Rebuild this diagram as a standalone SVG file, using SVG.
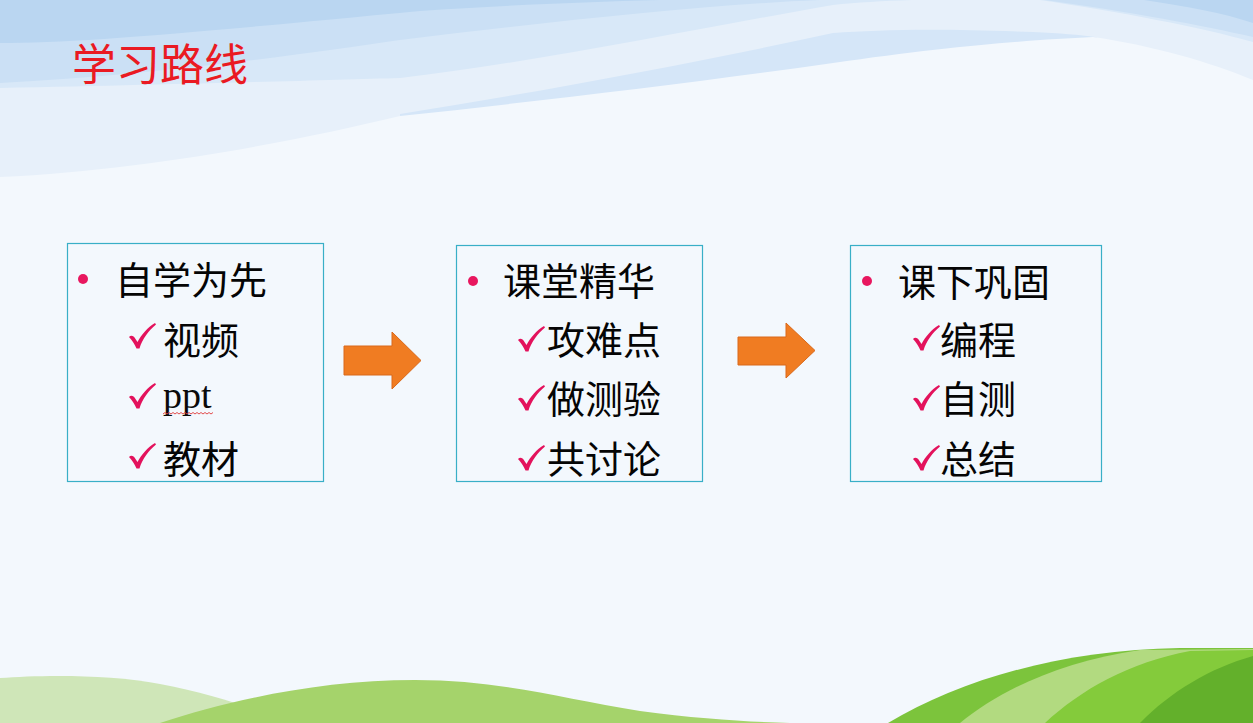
<svg xmlns="http://www.w3.org/2000/svg" xmlns:xlink="http://www.w3.org/1999/xlink" width="1253" height="723" viewBox="0 0 1253 723">
<style>
.box{fill:none;stroke:#38afc7;stroke-width:1.2}
.t{font-family:"Noto Sans CJK SC","Noto Sans",sans-serif;font-size:38px;font-weight:400;fill:#050505}
.lat{font-family:"Liberation Serif",serif;font-size:38px;fill:#0a0a0a}
.title{font-family:"Noto Sans CJK SC","Noto Sans",sans-serif;font-size:44px;font-weight:400;fill:#ea1a22}
.dot{fill:#e8175f}
.chk{fill:#e3125c}
.arr{fill:#f07c22;stroke:#d9691a;stroke-width:1}
</style>
<defs>
<path id="check" d="M0,14 C2,12 4.5,12.5 6.5,16 L8.5,19 C12.5,11.5 18.5,4.5 26,0 L27,1.5 C19.5,8 13.5,15.5 10.5,25.5 L7.5,25.5 C5.5,21 3,17 0,14 Z"/>
</defs>
<g id="background">
<rect x="0" y="0" width="1253" height="723" fill="#f3f8fd"/>
<rect x="0" y="0" width="1253" height="260" fill="#bad6f1"/>
<path d="M0,43 C80,43 200,32 420,11 C550,2 700,-2 800,-2 L1130,-2 C1180,5 1220,12 1253,23 V260 H0 Z" fill="#cbe0f5"/>
<path d="M0,83 C150,75 300,55 400,40 C550,22 700,5 820,0 L1030,-2 C1120,10 1200,25 1253,37 V260 H0 Z" fill="#d8e8f8"/>
<path d="M0,88 C200,84 330,80 400,78 C550,60 700,28 833,5 C900,-2 1000,-2 1040,0 C1120,12 1200,27 1253,42 V260 H0 Z" fill="#e7f0fa"/>
<path d="M400,114 C550,90 700,62 833,33 C880,30 930,28 1033,32 C1060,33 1080,35 1095,37 L1253,100 V260 H400 Z" fill="#d5e6f8"/>
<path d="M0,177 C150,170 300,140 400,116 C550,100 700,82 833,63 C950,46 1030,40 1093,37 C1150,45 1210,62 1253,80 V723 H0 Z" fill="#f3f8fd"/>
<path d="M0,678 C40,675 110,674 160,684 C200,692 230,700 260,712 L260,723 H0 Z" fill="#cfe6b8"/>
<path d="M160,723 C230,700 320,680 415,680 C500,680 560,698 640,711 C700,719 750,722 790,723 Z" fill="#a5d36b"/>
<path d="M888,723 C960,680 1060,650 1180,648 L1253,648 V723 Z" fill="#7cc43c"/>
<path d="M960,723 C1000,690 1060,662 1140,650 L1253,649 V723 Z" fill="#b2da80"/>
<path d="M1045,723 C1080,690 1130,662 1190,651 L1253,650 V723 Z" fill="#84cb3b"/>
<path d="M1140,723 C1170,692 1210,668 1253,656 V723 Z" fill="#63b02b"/>
</g>
<g id="title"><text class="title" x="72" y="81">学习路线</text></g>
<g id="node-1">
<rect class="box" x="67.5" y="243.5" width="256" height="238"/>
<circle class="dot" cx="83" cy="279" r="5"/>
<text class="t" x="115" y="294">自学为先</text>
<use xlink:href="#check" href="#check" class="chk" x="129" y="323"/>
<text class="t" x="163" y="354">视频</text>
<use xlink:href="#check" href="#check" class="chk" x="129" y="383"/>
<text class="lat" x="163" y="408">ppt</text>
<path d="M163,414 l2,-1.5 l2,1.5 l2,-1.5 l2,1.5 l2,-1.5 l2,1.5 l2,-1.5 l2,1.5 l2,-1.5 l2,1.5 l2,-1.5 l2,1.5 l2,-1.5 l2,1.5 l2,-1.5 l2,1.5 l2,-1.5 l2,1.5 l2,-1.5 l2,1.5 l2,-1.5 l2,1.5 l2,-1.5 l2,1.5 l2,-1.5" fill="none" stroke="#e03a3a" stroke-width="0.9"/>
<use xlink:href="#check" href="#check" class="chk" x="129" y="443"/>
<text class="t" x="163" y="473">教材</text>
</g>
<g id="node-2">
<rect class="box" x="456.5" y="245.5" width="246" height="236"/>
<circle class="dot" cx="473" cy="281" r="5"/>
<text class="t" x="503" y="295">课堂精华</text>
<use xlink:href="#check" href="#check" class="chk" x="518" y="326"/>
<text class="t" x="547" y="354">攻难点</text>
<use xlink:href="#check" href="#check" class="chk" x="518" y="385"/>
<text class="t" x="547" y="413">做测验</text>
<use xlink:href="#check" href="#check" class="chk" x="518" y="445"/>
<text class="t" x="547" y="473">共讨论</text>
</g>
<g id="node-3">
<rect class="box" x="850.5" y="245.5" width="251" height="236"/>
<circle class="dot" cx="867" cy="281" r="5"/>
<text class="t" x="898" y="296">课下巩固</text>
<use xlink:href="#check" href="#check" class="chk" x="913" y="325"/>
<text class="t" x="940" y="354">编程</text>
<use xlink:href="#check" href="#check" class="chk" x="913" y="385"/>
<text class="t" x="940" y="413">自测</text>
<use xlink:href="#check" href="#check" class="chk" x="913" y="445"/>
<text class="t" x="940" y="473">总结</text>
</g>
<g id="connectors">
<path class="arr" d="M344,346 H392 V332 L421,360.5 L392,389 V375 H344 Z"/>
<path class="arr" d="M738,337 H786 V323 L815,350.5 L786,378 V365 H738 Z"/>
</g>
</svg>
